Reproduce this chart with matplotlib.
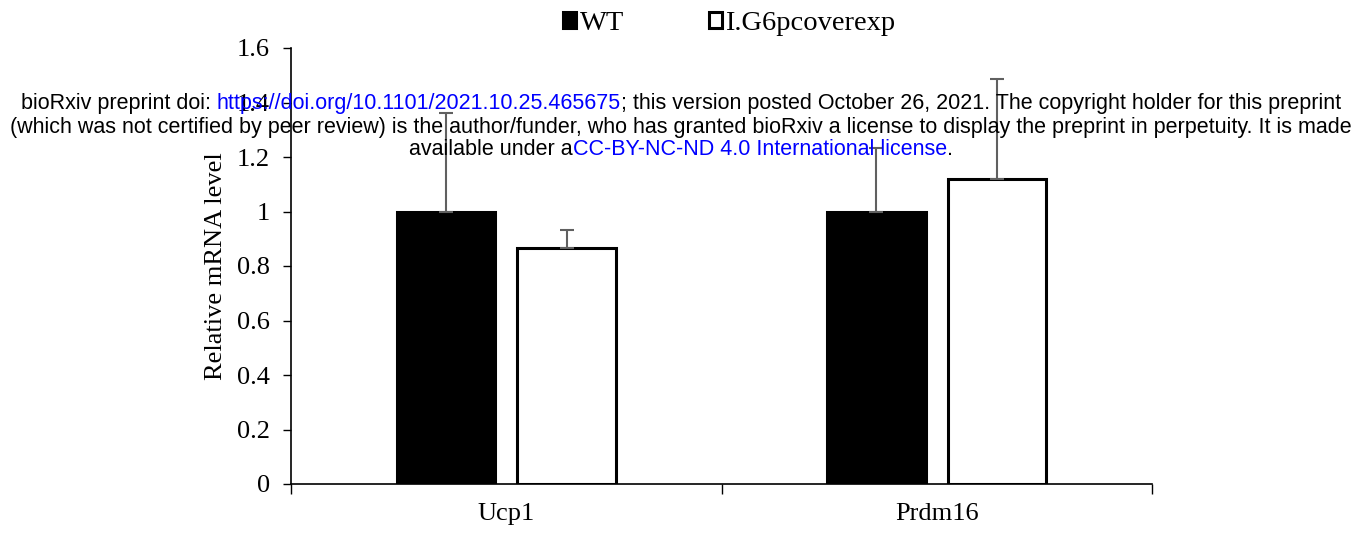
import matplotlib
matplotlib.use("Agg")
import matplotlib.pyplot as plt
import numpy as np

categories = ["Ucp1", "Prdm16"]
series_names = ["WT", "I.G6pcoverexp"]
wt_values = [1.0, 1.0]
wt_err = [0.36, 0.233]
exp_values = [0.866, 1.119]
exp_err = [0.066, 0.367]
yticks = [0, 0.2, 0.4, 0.6, 0.8, 1, 1.2, 1.4, 1.6]

fig = plt.figure(figsize=(13.62, 5.33), dpi=100)
ax = fig.add_axes([291/1362, 1-484/533, (1152-291)/1362, (484-48)/533])

x = np.arange(len(categories))
bw = 0.228
off = 0.14
ax.bar(x - off, wt_values, bw, color="black", edgecolor="black", linewidth=2.2,
       yerr=[np.zeros(2), wt_err], ecolor="#606060", capsize=5,
       error_kw=dict(elinewidth=1.5, capthick=1.5), label=series_names[0], zorder=2)
ax.bar(x + off, exp_values, bw, color="white", edgecolor="black", linewidth=2.2,
       yerr=[np.zeros(2), exp_err], ecolor="#606060", capsize=5,
       error_kw=dict(elinewidth=1.5, capthick=1.5), label=series_names[1], zorder=2)

tfs = 19
ax.set_xlim(-0.5, len(categories) - 0.5)
ax.set_ylim(0, 1.6)
ax.set_yticks(yticks)
ax.set_yticklabels([f"{v:g}" for v in yticks], fontfamily="Liberation Serif", fontsize=tfs)
ax.set_xticks(x)
ax.set_xticklabels(categories, fontfamily="Liberation Serif", fontsize=tfs)
ax.tick_params(axis="x", length=0, pad=14)
ax.set_xticks([-0.5, 0.5, 1.5], minor=True)
ax.tick_params(axis="x", which="minor", length=7, width=1)
ax.tick_params(axis="y", length=6, width=1, direction="out", pad=9)
for s in ["top", "right"]:
    ax.spines[s].set_visible(False)
ax.spines["left"].set_linewidth(1.2)
ax.spines["bottom"].set_linewidth(1.2)
ax.set_ylabel("Relative mRNA level", fontfamily="Liberation Serif", fontsize=tfs, labelpad=7)

leg = fig.legend(loc="upper center", bbox_to_anchor=(0.5356, 1.027), ncol=2, frameon=False,
                 prop=dict(family="Liberation Serif", size=20.5), handlelength=0.45,
                 handleheight=0.45, columnspacing=3.0, handletextpad=0.12)

# bioRxiv watermark
fs = 15.5
lines = [
    [("bioRxiv preprint doi: ", "black"), ("https://doi.org/10.1101/2021.10.25.465675", "blue"),
     ("; this version posted October 26, 2021. The copyright holder for this preprint", "black")],
    [("(which was not certified by peer review) is the author/funder, who has granted bioRxiv a license to display the preprint in perpetuity. It is made", "black")],
    [("available under a", "black"), ("CC-BY-NC-ND 4.0 International license", "blue"), (".", "black")],
]
ys = [1-104/533, 1-128/533, 1-150/533]
fig.canvas.draw()
r = fig.canvas.get_renderer()
for parts, yy in zip(lines, ys):
    temps = []
    total = 0
    for t, c in parts:
        tt = fig.text(0, 0, t, fontsize=fs, fontfamily="Liberation Sans")
        w = tt.get_window_extent(r).width
        tt.remove()
        temps.append(w)
        total += w
    xs = 681 - total / 2
    for (t, c), w in zip(parts, temps):
        fig.text(xs / 1362, yy, t, fontsize=fs, fontfamily="Liberation Sans", color=c,
                 va="center", ha="left", zorder=10)
        xs += w

fig.savefig("out.png", dpi=100)
